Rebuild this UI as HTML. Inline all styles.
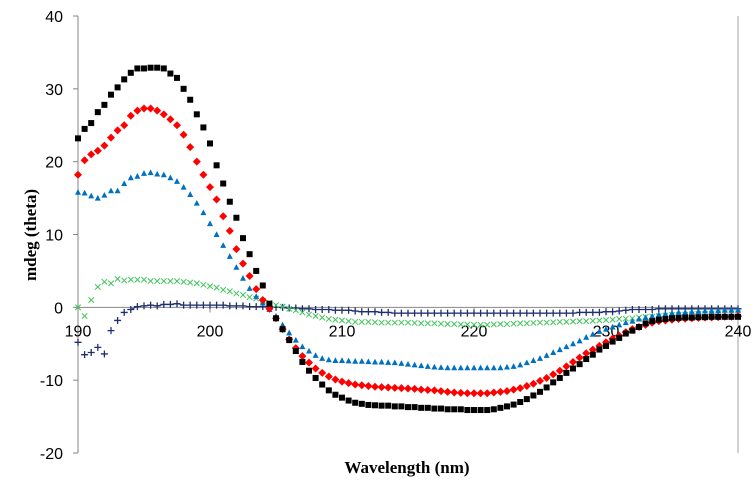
<!DOCTYPE html>
<html><head><meta charset="utf-8"><style>
html,body{margin:0;padding:0;background:#fff}
svg{display:block}
</style></head><body>
<svg id="chart" width="755" height="490" viewBox="0 0 755 490" xmlns="http://www.w3.org/2000/svg">
<g id="axes"></g><g id="series"></g>
<text x="0" y="0" transform="translate(36,235) rotate(-90)" text-anchor="middle" font-family="Liberation Serif, serif" font-weight="bold" font-size="17">mdeg (theta)</text>
<text x="407" y="473" text-anchor="middle" font-family="Liberation Serif, serif" font-weight="bold" font-size="17">Wavelength (nm)</text>
</svg>
<script>
const xTicks=[190,200,210,220,230,240];
const yTicks=[40,30,20,10,0,-10,-20];
const startNm=190, stepNm=0.5;
const black=[23.2,24.5,25.3,26.8,27.8,29.2,30.2,31.3,32.2,32.8,32.8,32.9,32.9,32.8,32.1,31.5,30,28.5,26.5,24.7,22.5,19.5,17,14.5,12.3,9.5,7.3,5,3,0.5,
-1.5,-3,-4.5,-6,-7.5,-8.7,-9.7,-10.6,-11.4,-12,
-12.4,-12.8,-13.1,-13.25,-13.4,-13.45,-13.5,-13.5,-13.6,-13.6,-13.7,-13.7,-13.8,-13.8,-13.9,-13.9,-14,-14,-14,-14.1,
-14.1,-14.1,-14.1,-14.0,-13.8,-13.6,-13.35,-13,-12.6,-12.1,-11.6,-11,-10.3,-9.7,-9,-8.4,-7.8,-7.1,-6.5,-5.8,
-5.3,-4.7,-4.2,-3.6,-3.2,-2.7,-2.2,-1.9,-1.7,-1.6,-1.5,-1.45,-1.4,-1.4,-1.35,-1.35,-1.3,-1.3,-1.3,-1.3,-1.3];
const red=[18.2,20.2,21,21.5,22.2,23.3,24.3,25,26.3,27,27.3,27.3,27,26.5,25.8,25,23.7,22,20,18.2,16.5,14.8,12.5,10.5,8,6,4.3,2.5,1,-0.2,
-1.5,-3,-4.4,-5.6,-6.7,-7.6,-8.4,-9,-9.5,-9.9,
-10.2,-10.4,-10.6,-10.7,-10.8,-10.9,-10.95,-11,-11.05,-11.1,-11.15,-11.2,-11.3,-11.35,-11.4,-11.5,-11.6,-11.7,-11.75,-11.8,
-11.8,-11.8,-11.8,-11.7,-11.6,-11.5,-11.3,-11.1,-10.8,-10.5,-10.1,-9.7,-9.2,-8.7,-8.1,-7.5,-6.9,-6.3,-5.8,-5.3,
-4.8,-4.3,-3.9,-3.4,-3.0,-2.7,-2.4,-2.1,-1.9,-1.8,-1.7,-1.6,-1.55,-1.5,-1.45,-1.4,-1.4,-1.35,-1.3,-1.3,-1.2];
const blue=[15.8,15.7,15.3,15,15.4,16,16,17,17.8,18,18.4,18.5,18.3,18.2,17.8,17.3,16.5,15.5,14.3,13,11.5,10,8.5,7,5.5,4,2.6,1.5,0.6,-0.3,
-1.2,-2.4,-3.5,-4.5,-5.4,-6,-6.6,-7,-7.2,-7.3,
-7.3,-7.35,-7.4,-7.4,-7.45,-7.5,-7.5,-7.55,-7.6,-7.7,-7.8,-7.9,-8,-8.1,-8.2,-8.25,-8.3,-8.3,-8.3,-8.3,
-8.3,-8.3,-8.3,-8.3,-8.3,-8.2,-8.1,-7.9,-7.6,-7.3,-7,-6.6,-6.2,-5.8,-5.4,-5,-4.6,-4.1,-3.7,-3.3,
-3,-2.7,-2.4,-2.1,-1.9,-1.6,-1.4,-1.2,-1,-0.9,-0.8,-0.7,-0.65,-0.6,-0.55,-0.5,-0.5,-0.45,-0.4,-0.4,-0.4];
const green=[0,-1.2,1,2.8,3.5,3.3,3.9,3.7,3.8,3.8,3.8,3.6,3.6,3.6,3.6,3.6,3.5,3.4,3.3,3.1,2.9,2.7,2.4,2.2,1.9,1.7,1.4,1.2,0.9,0.6,
0.3,0.1,-0.2,-0.4,-0.7,-1,-1.2,-1.4,-1.6,-1.7,
-1.8,-1.9,-2,-2,-2,-2.05,-2.1,-2.1,-2.1,-2.1,-2.1,-2.15,-2.2,-2.2,-2.2,-2.25,-2.3,-2.3,-2.35,-2.35,
-2.4,-2.4,-2.4,-2.35,-2.3,-2.3,-2.25,-2.2,-2.2,-2.15,-2.1,-2.1,-2.05,-2,-2,-1.95,-1.9,-1.9,-1.85,-1.8,
-1.75,-1.7,-1.6,-1.55,-1.5,-1.4,-1.3,-1.25,-1.2,-1.1,-1.05,-1,-1,-0.95,-0.9,-0.9,-0.85,-0.8,-0.8,-0.8,-0.8];
const navy=[-4.8,-6.5,-6.2,-5.5,-6.4,-3.2,-1.8,-0.7,-0.3,0.1,0.2,0.3,0.2,0.4,0.4,0.5,0.3,0.3,0.3,0.3,0.3,0.3,0.3,0.2,0.2,0.2,0.1,0.1,0.1,0.1,
0,0,-0.1,-0.1,-0.2,-0.2,-0.3,-0.3,-0.3,-0.4,
-0.4,-0.4,-0.5,-0.6,-0.6,-0.6,-0.7,-0.7,-0.8,-0.8,-0.8,-0.8,-0.8,-0.8,-0.8,-0.8,-0.8,-0.8,-0.8,-0.8,
-0.8,-0.8,-0.8,-0.8,-0.8,-0.8,-0.8,-0.8,-0.8,-0.8,-0.8,-0.8,-0.8,-0.8,-0.8,-0.8,-0.7,-0.7,-0.7,-0.7,
-0.6,-0.6,-0.5,-0.4,-0.3,-0.3,-0.3,-0.3,-0.2,-0.2,-0.2,-0.2,-0.2,-0.2,-0.2,-0.2,-0.2,-0.2,-0.2,-0.2,-0.2];

const NS="http://www.w3.org/2000/svg";
const X0=78,X1=738,Y0=453,Y1=16;
const xs=v=>X0+(v-190)/(240-190)*(X1-X0);
const ys=v=>Y0-(v-(-20))/(40-(-20))*(Y0-Y1);
function mk(tag,attrs,parent){const e=document.createElementNS(NS,tag);for(const k in attrs)e.setAttribute(k,attrs[k]);parent.appendChild(e);return e;}
const axes=document.getElementById('axes'),ser=document.getElementById('series');
let yAxis=mk('line',{x1:X0,y1:Y1,x2:X0,y2:Y0,stroke:'#868686','stroke-width':1},axes);


let rBorder=mk('line',{x1:X1,y1:Y1,x2:X1,y2:Y0,stroke:'#a0a0a0','stroke-width':1},axes);


let xAxis=mk('line',{x1:X0,y1:ys(0),x2:X1,y2:ys(0),stroke:'#868686','stroke-width':1},axes);


yTicks.forEach(v=>{
  mk('line',{x1:X0-5,y1:ys(v),x2:X0,y2:ys(v),stroke:'#868686'},axes);
  const t=mk('text',{x:X0-15,y:ys(v)+6,'text-anchor':'end','font-family':'Liberation Sans, sans-serif','font-size':16},axes);
  t.textContent=v;
  
  
});
xTicks.forEach(v=>{
  mk('line',{x1:xs(v),y1:ys(0),x2:xs(v),y2:ys(0)+5,stroke:'#868686'},axes);
  const t=mk('text',{x:xs(v),y:ys(0)+29,'text-anchor':'middle','font-family':'Liberation Sans, sans-serif','font-size':16},axes);
  t.textContent=v;
  
  
});
function marker(kind,cx,cy,g){
  if(kind==='square')return mk('rect',{x:cx-3,y:cy-3,width:6,height:6,fill:'#000'},g);
  if(kind==='diamond')return mk('polygon',{points:`${cx},${cy-4} ${cx+4},${cy} ${cx},${cy+4} ${cx-4},${cy}`,fill:'#ff0000'},g);
  if(kind==='triangle')return mk('polygon',{points:`${cx},${cy-3.2} ${cx+3},${cy+2.5} ${cx-3},${cy+2.5}`,fill:'#0070c0'},g);
  if(kind==='x')return mk('path',{d:`M${cx-2.7},${cy-2.7}L${cx+2.7},${cy+2.7}M${cx+2.7},${cy-2.7}L${cx-2.7},${cy+2.7}`,stroke:'#3fc45a','stroke-width':1},g);
  if(kind==='plus')return mk('path',{d:`M${cx-3.5},${cy}L${cx+3.5},${cy}M${cx},${cy-3.5}L${cx},${cy+3.5}`,stroke:'#1f2f6e','stroke-width':1.3},g);
}
const list=[[navy,'plus','series-navy'],[green,'x','series-green'],[blue,'triangle','series-blue'],[red,'diamond','series-red'],[black,'square','series-black']];
list.forEach(([data,kind,name])=>{
  const g=mk('g',{},ser);
  
  
  if(kind==='plus'){
    const pts=data.map((v,i)=>[xs(startNm+i*stepNm),ys(v)]).slice(8).map(p=>p.join(',')).join(' ');
    mk('polyline',{points:pts,fill:'none',stroke:'#1f2f6e','stroke-width':1},g);
  }
  data.forEach((v,i)=>{
    const m=marker(kind,xs(startNm+i*stepNm),ys(v),g);
    
    
  });
});
</script>
</body></html>
